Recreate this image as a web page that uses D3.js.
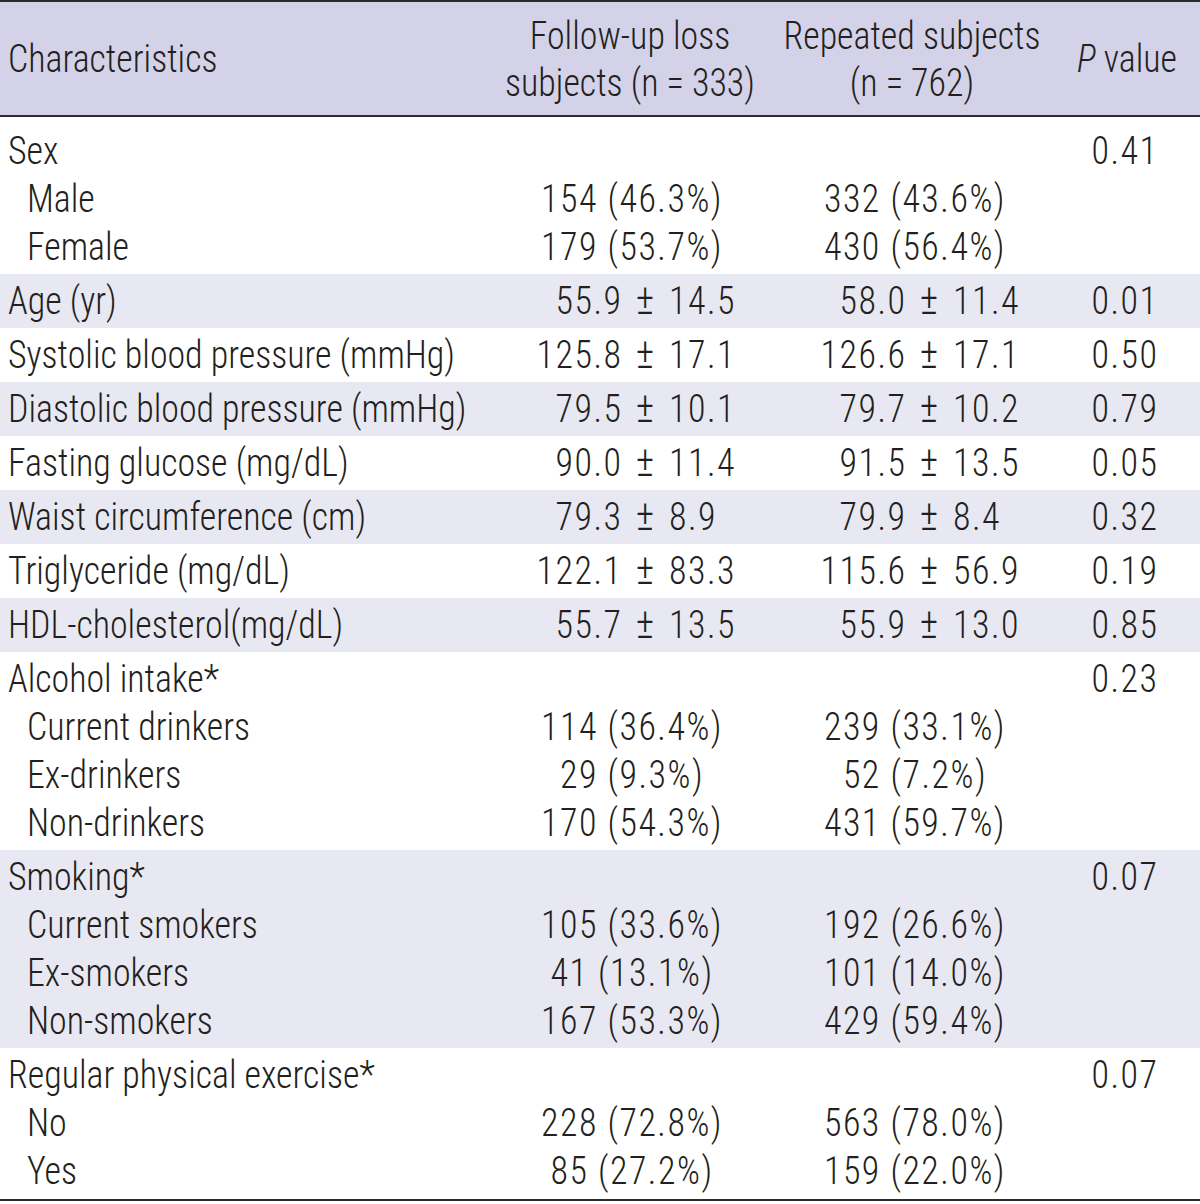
<!DOCTYPE html>
<html>
<head>
<meta charset="utf-8">
<script src="https://cdn.jsdelivr.net/npm/d3@7"></script>
<style>
  html, body { margin: 0; padding: 0; background: #ffffff; }
  svg { display: block; }
</style>
</head>
<body>
<svg id="chart" width="1200" height="1204"></svg>
<script>
// ---------- DATA ----------
const headerCol1 = ["Characteristics"];
const headerCol2 = ["Follow-up loss", "subjects (n = 333)"];
const headerCol3 = ["Repeated subjects", "(n = 762)"];
const headerCol4 = ["P", " value"];

const characteristics = [
  "Sex", "Male", "Female",
  "Age (yr)",
  "Systolic blood pressure (mmHg)",
  "Diastolic blood pressure (mmHg)",
  "Fasting glucose (mg/dL)",
  "Waist circumference (cm)",
  "Triglyceride (mg/dL)",
  "HDL-cholesterol(mg/dL)",
  "Alcohol intake*", "Current drinkers", "Ex-drinkers", "Non-drinkers",
  "Smoking*", "Current smokers", "Ex-smokers", "Non-smokers",
  "Regular physical exercise*", "No", "Yes"
];
const level = [0,1,1, 0,0,0,0,0,0,0, 0,1,1,1, 0,1,1,1, 0,1,1];
const groupOf = [0,0,0, 1,2,3,4,5,6,7, 8,8,8,8, 9,9,9,9, 10,10,10];

const followUpLoss = [
  "", "154 (46.3%)", "179 (53.7%)",
  "55.9 ± 14.5", "125.8 ± 17.1", "79.5 ± 10.1", "90.0 ± 11.4",
  "79.3 ± 8.9", "122.1 ± 83.3", "55.7 ± 13.5",
  "", "114 (36.4%)", "29 (9.3%)", "170 (54.3%)",
  "", "105 (33.6%)", "41 (13.1%)", "167 (53.3%)",
  "", "228 (72.8%)", "85 (27.2%)"
];
const repeatedSubjects = [
  "", "332 (43.6%)", "430 (56.4%)",
  "58.0 ± 11.4", "126.6 ± 17.1", "79.7 ± 10.2", "91.5 ± 13.5",
  "79.9 ± 8.4", "115.6 ± 56.9", "55.9 ± 13.0",
  "", "239 (33.1%)", "52 (7.2%)", "431 (59.7%)",
  "", "192 (26.6%)", "101 (14.0%)", "429 (59.4%)",
  "", "563 (78.0%)", "159 (22.0%)"
];
const pValues = [
  "0.41", "", "",
  "0.01", "0.50", "0.79", "0.05", "0.32", "0.19", "0.85",
  "0.23", "", "", "",
  "0.07", "", "", "",
  "0.07", "", ""
];

// ---------- STYLE / LAYOUT ----------
const W = 1200;
const FONT = "'Liberation Sans Narrow', 'Arial Narrow', 'Roboto Condensed', sans-serif";
const FS = 38;
const SX = 0.945;          // horizontal condensing of text
const NUM_LS = 1.6;        // letter-spacing for numeric cells
const TEXT = "#231f20";
const HEADER_BG = "#d3d2e8";
const STRIPE_BG = "#e8e8f3";
const LINE = "#2b2b2b";
const headerH = 116;
const lineH = 48;
const singleH = 54;
const bodyTopPad = 8;
const bodyBottomPad = 2;
const baselineOff = 13;

const colX = { labelL0: 8, labelL1: 27, c2Count: 632, c2Pm: 645, c3Count: 915, c3Pm: 929, p: 1125 };
const pmGap = 24;

const svg = d3.select("#chart");

// build groups
const groups = d3.groups(d3.range(characteristics.length), i => groupOf[i]);
let y = headerH + bodyTopPad;
const rowCenter = [];
const bands = [];
groups.forEach(([g, idxs], gi) => {
  const n = idxs.length;
  const h = singleH + (n - 1) * lineH;
  const top = y;
  const bandTop = gi === 0 ? headerH : top;
  const bandBottom = top + h + (gi === groups.length - 1 ? bodyBottomPad : 0);
  idxs.forEach((i, k) => { rowCenter[i] = top + singleH / 2 + k * lineH; });
  bands.push({ g, top: bandTop, bottom: bandBottom });
  y += h;
});
const tableBottom = y + bodyBottomPad;

// header background
svg.append("rect").attr("x", 0).attr("y", 0).attr("width", W).attr("height", headerH).attr("fill", HEADER_BG);

// stripes
svg.selectAll("rect.band").data(bands.filter(b => b.g % 2 === 1)).join("rect")
  .attr("class", "band")
  .attr("x", 0).attr("width", W)
  .attr("y", d => d.top).attr("height", d => d.bottom - d.top)
  .attr("fill", STRIPE_BG);

// rules
[1, headerH, tableBottom].forEach(ly => {
  svg.append("line").attr("x1", 0).attr("x2", W).attr("y1", ly).attr("y2", ly)
    .attr("stroke", LINE).attr("stroke-width", 2);
});

const txt = svg.append("g")
  .attr("transform", `scale(${SX},1)`)
  .attr("font-family", FONT).attr("font-size", FS).attr("font-weight", 300).attr("fill", TEXT);
const X = v => v / SX;

// header texts
txt.append("text").attr("x", X(colX.labelL0)).attr("y", 72).text(headerCol1[0]);
headerCol2.forEach((t, k) => txt.append("text").attr("x", X(630)).attr("y", 49 + k * 47).attr("text-anchor", "middle").text(t));
headerCol3.forEach((t, k) => txt.append("text").attr("x", X(912)).attr("y", 49 + k * 47).attr("text-anchor", "middle").text(t));
const ph = txt.append("text").attr("x", X(1127)).attr("y", 72).attr("text-anchor", "middle");
ph.append("tspan").attr("font-style", "italic").text(headerCol4[0]);
ph.append("tspan").text(headerCol4[1]);

// body
const num = (x, yy, anchor, t) => txt.append("text").attr("x", X(x)).attr("y", yy)
  .attr("text-anchor", anchor).attr("letter-spacing", NUM_LS).text(t);

characteristics.forEach((lab, i) => {
  const by = rowCenter[i] + baselineOff;
  txt.append("text").attr("x", X(level[i] ? colX.labelL1 : colX.labelL0)).attr("y", by).text(lab);
  [[followUpLoss[i], colX.c2Count, colX.c2Pm], [repeatedSubjects[i], colX.c3Count, colX.c3Pm]].forEach(([v, cx, px]) => {
    if (!v) return;
    if (v.includes("±")) {
      const [m, s] = v.split(" ± ");
      num(px - pmGap + NUM_LS, by, "end", m);
      txt.append("text").attr("x", X(px)).attr("y", by).attr("text-anchor", "middle").attr("font-size", FS * 1.1).text("±");
      num(px + pmGap, by, "start", s);
    } else {
      num(cx, by, "middle", v);
    }
  });
  if (pValues[i]) num(colX.p, by, "middle", pValues[i]);
});
</script>
</body>
</html>
